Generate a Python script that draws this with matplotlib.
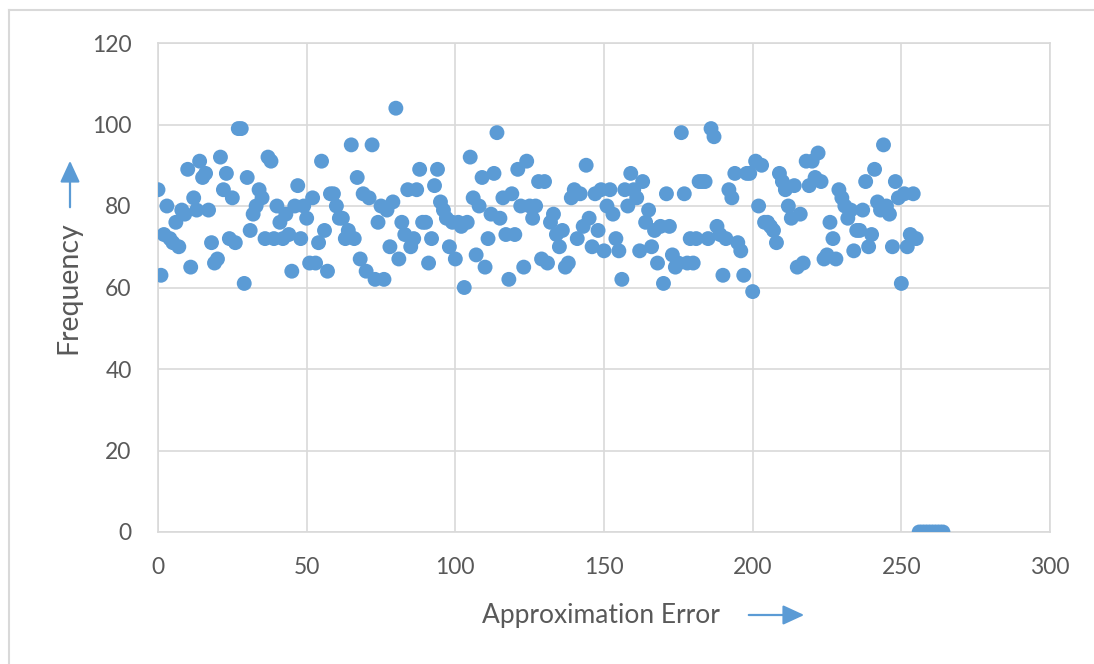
import matplotlib
matplotlib.use("Agg")
import matplotlib.pyplot as plt
from matplotlib.lines import Line2D
from matplotlib.patches import FancyArrowPatch

# ---- data ----
freq_main = [
    84, 63, 73, 80, 72, 71, 76, 70, 79, 78,
    89, 65, 82, 79, 91, 87, 88, 79, 71, 66,
    67, 92, 84, 88, 72, 82, 71, 99, 99, 61,
    87, 74, 78, 80, 84, 82, 72, 92, 91, 72,
    80, 76, 72, 78, 73, 64, 80, 85, 72, 80,
    77, 66, 82, 66, 71, 91, 74, 64, 83, 83,
    80, 77, 77, 72, 74, 95, 72, 87, 67, 83,
    64, 82, 95, 62, 76, 80, 62, 79, 70, 81,
    104, 67, 76, 73, 84, 70, 72, 84, 89, 76,
    76, 66, 72, 85, 89, 81, 79, 77, 70, 76,
    67, 76, 75, 60, 76, 92, 82, 68, 80, 87,
    65, 72, 78, 88, 98, 77, 82, 73, 62, 83,
    73, 89, 80, 65, 91, 80, 77, 80, 86, 67,
    86, 66, 76, 78, 73, 70, 74, 65, 66, 82,
    84, 72, 83, 75, 90, 77, 70, 83, 74, 84,
    69, 80, 84, 78, 72, 69, 62, 84, 80, 88,
    84, 82, 69, 86, 76, 79, 70, 74, 66, 75,
    61, 83, 75, 68, 65, 66, 98, 83, 66, 72,
    66, 72, 86, 86, 86, 72, 99, 97, 75, 73,
    63, 72, 84, 82, 88, 71, 69, 63, 88, 88,
    59, 91, 80, 90, 76, 76, 75, 74, 71, 88,
    86, 84, 80, 77, 85, 65, 78, 66, 91, 85,
    91, 87, 93, 86, 67, 68, 76, 72, 67, 84,
    82, 80, 77, 79, 69, 74, 74, 79, 86, 70,
    73, 89, 81, 79, 95, 80, 78, 70, 86, 82,
    61, 83, 70, 73, 83, 72,
]
freq_zero = [0, 0, 0, 0, 0, 0, 0, 0, 0]
frequency = freq_main + freq_zero
errors = list(range(len(frequency)))

x_ticks = [0, 50, 100, 150, 200, 250, 300]
y_ticks = [0, 20, 40, 60, 80, 100, 120]
x_title = "Approximation Error"
y_title = "Frequency"

# ---- style ----
blue = "#5B9BD5"
grid_c = "#D9D9D9"
text_c = "#595959"
font = "Lato"

W, H = 1094, 664
fig = plt.figure(figsize=(W / 100, H / 100), dpi=100)
ax = fig.add_axes([158 / W, 1 - 532 / H, (1050 - 158) / W, (532 - 43) / H])

ax.scatter(errors, frequency, s=115, color=blue, edgecolors="none", zorder=3)

ax.set_xlim(0, 300)
ax.set_ylim(0, 120)
ax.set_xticks(x_ticks)
ax.set_yticks(y_ticks)
ax.grid(True, color=grid_c, linewidth=1.2, zorder=0)
for s in ax.spines.values():
    s.set_color(grid_c)
    s.set_linewidth(1.2)
ax.tick_params(axis="x", length=0, pad=18, labelsize=16.5, labelcolor=text_c)
ax.tick_params(axis="y", length=0, pad=19, labelsize=16.5, labelcolor=text_c)
for lab in ax.get_xticklabels() + ax.get_yticklabels():
    lab.set_family(font)

# axis titles
fig.text(601 / W, 1 - 615 / H, x_title, ha="center", va="center",
         fontsize=19, color=text_c, family=font)
fig.text(68 / W, 1 - 288 / H, y_title, ha="center", va="center",
         rotation=90, fontsize=20.5, color=text_c, family=font)

# arrows
fig.patches.append(FancyArrowPatch(
    (746 / W, 1 - 615 / H), (807 / W, 1 - 615 / H), transform=fig.transFigure,
    arrowstyle="-|>,head_length=13,head_width=6", color=blue, linewidth=1.6,
    mutation_scale=1))
fig.patches.append(FancyArrowPatch(
    (70 / W, 1 - 210 / H), (70 / W, 1 - 158 / H), transform=fig.transFigure,
    arrowstyle="-|>,head_length=13,head_width=6", color=blue, linewidth=1.6,
    mutation_scale=1))

# chart area border (top and left visible)
fig.add_artist(Line2D([9 / W, 1], [1 - 10 / H, 1 - 10 / H], transform=fig.transFigure,
                      color=grid_c, linewidth=1.5))
fig.add_artist(Line2D([9 / W, 9 / W], [0, 1 - 10 / H], transform=fig.transFigure,
                      color=grid_c, linewidth=1.5))

fig.savefig("out.png", dpi=100)
